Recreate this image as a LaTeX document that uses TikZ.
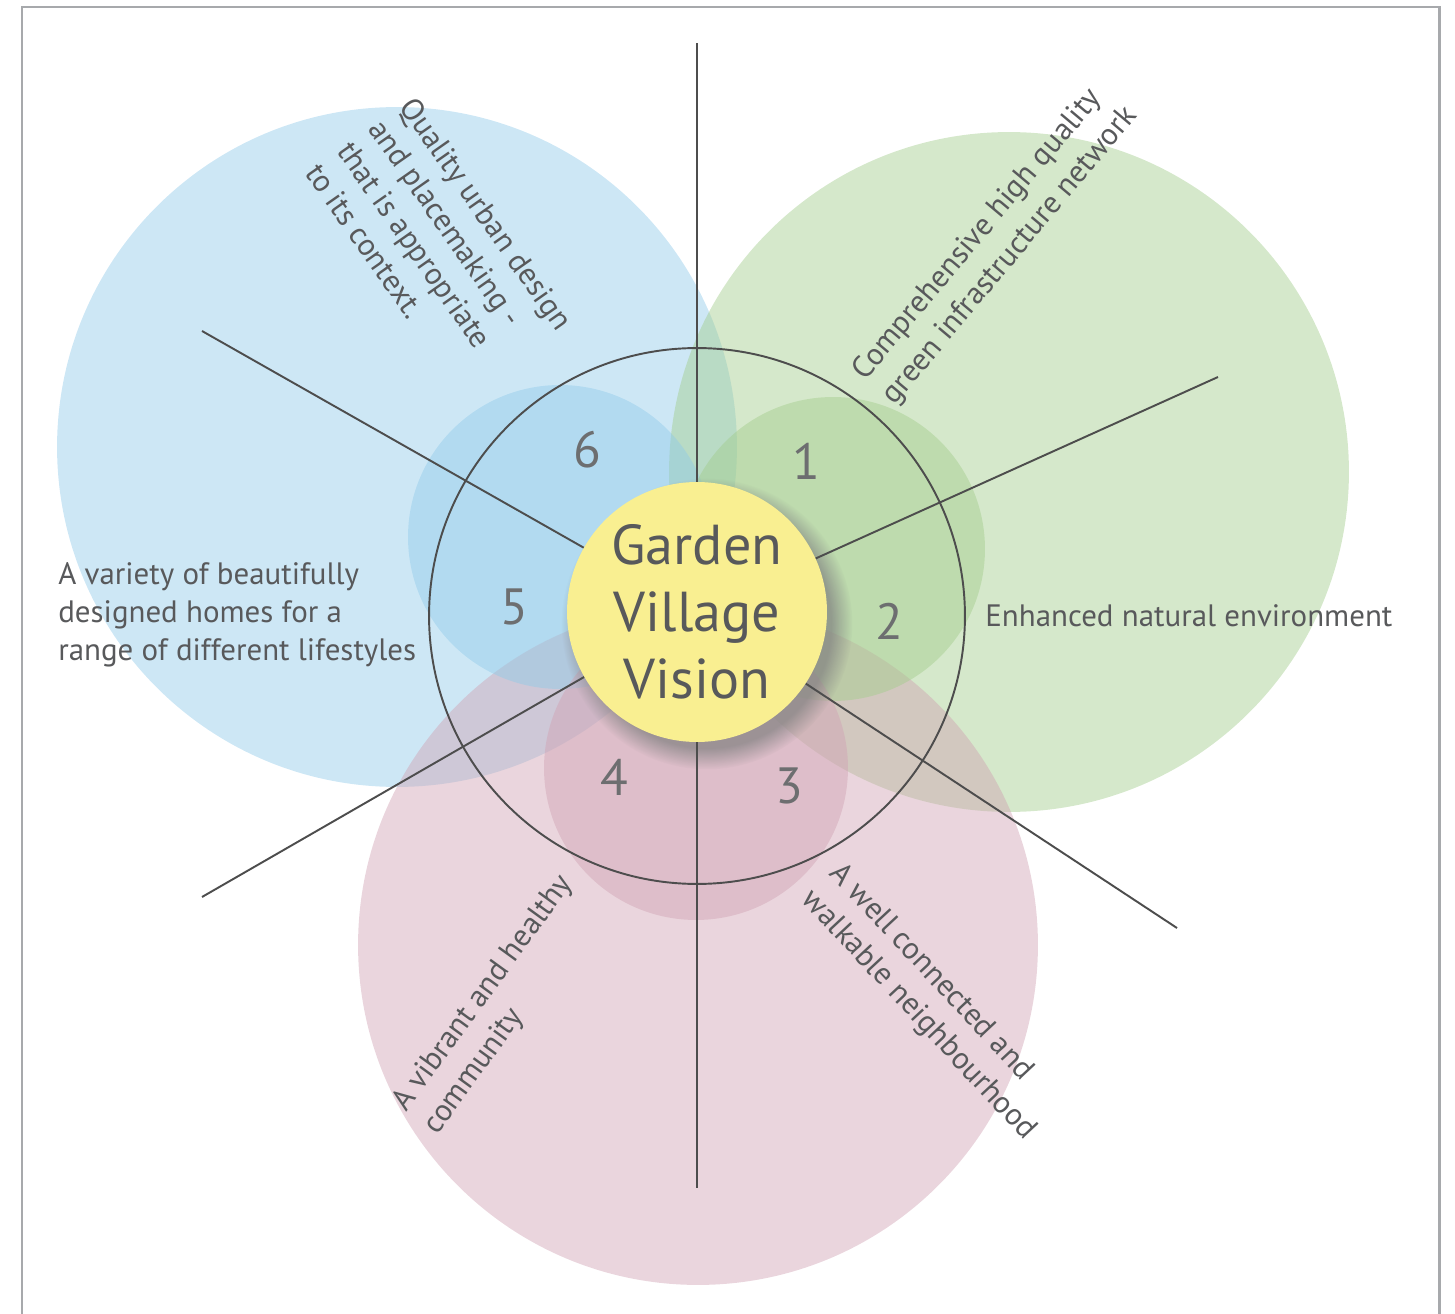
\documentclass[tikz,border=0pt]{standalone}
\usepackage{fontspec}
\setmainfont{PT Sans}
\usetikzlibrary{shadows}
\definecolor{txtgrey}{HTML}{58595B}
\definecolor{numgrey}{HTML}{6D6E70}
\definecolor{linegrey}{HTML}{4D4D4D}
\definecolor{framegrey}{HTML}{A7A9AC}
\definecolor{bluefill}{RGB}{144,202,233}
\definecolor{greenfill}{RGB}{162,204,139}
\definecolor{pinkfill}{RGB}{208,162,179}
\definecolor{visionyellow}{HTML}{F9EF91}
\begin{document}
\begin{tikzpicture}[x=0.02cm, y=-0.02cm,
  zone/.style={circle, inner sep=0pt, fill opacity=0.45},
  spoke/.style={draw=linegrey, line width=1.1pt},
  num/.style={text=numgrey, inner sep=0pt, font=\fontsize{29}{34}\selectfont},
  aim/.style={text=txtgrey, inner sep=0pt, align=left, font=\fontsize{17.6}{21.8}\selectfont}]
\useasboundingbox (0,0) rectangle (1455,1314);
\draw[framegrey, line width=1.7pt] (22,1314) -- (22,7) -- (1439,7) -- (1439,1314);
% the three big circles
\node[zone, fill=bluefill, minimum size=13.6cm] (bluebig) at (397,447){};
\node[zone, fill=greenfill, minimum size=13.6cm] (greenbig) at (1009,472){};
\node[zone, fill=pinkfill, minimum size=13.6cm] (pinkbig) at (698,945){};
% the three small circles
\node[zone, fill=bluefill, minimum size=6.08cm] (bluesmall) at (560,537){};
\node[zone, fill=greenfill, minimum size=6.08cm] (greensmall) at (833,549){};
\node[zone, fill=pinkfill, minimum size=6.08cm] (pinksmall) at (696,768){};
\node[circle, draw=linegrey, line width=1.1pt, inner sep=0pt, minimum size=10.72cm] (ring) at (697,616){};
\node[circle, fill=visionyellow, inner sep=0pt, minimum size=5.2cm, align=center, text=txtgrey,
  font=\fontsize{32}{38}\selectfont,
  circular drop shadow={shadow scale=1.12, shadow xshift=5pt, shadow yshift=-6pt, opacity=0.7}]
  (vision) at (697,612){Garden\\Village\\Vision};
\coordinate (endN) at (697,43);
\coordinate (endNE) at (1218,377);
\coordinate (endSE) at (1177,928);
\coordinate (endS) at (697,1188);
\coordinate (endSW) at (202,897);
\coordinate (endNW) at (202,331);
\draw[spoke](vision) -- (endN);
\draw[spoke](vision) -- (endNE);
\draw[spoke](vision) -- (endSE);
\draw[spoke](vision) -- (endS);
\draw[spoke](vision) -- (endSW);
\draw[spoke](vision) -- (endNW);
\node[num] (n1) at (806,461){1};
\node[num] (n2) at (889,621){2};
\node[num] (n3) at (789,786){3};
\node[num] (n4) at (614,777){4};
\node[num] (n5) at (514,607){5};
\node[num] (n6) at (587,450){6};
\node[aim, anchor=north west, rotate=-55] (design) at (417,94){Quality urban design\\and placemaking -\\that is appropriate\\to its context.};
\node[aim, anchor=north west, rotate=50] (network) at (848,367){Comprehensive high quality\\green infrastructure network};
\node[aim, anchor=base west] (nature) at (985,627){Enhanced natural environment};
\node[aim, anchor=north west, rotate=-47] (walk) at (845,859){A well connected and\\walkable neighbourhood};
\node[aim, anchor=north west, rotate=54] (community) at (388,1100){A vibrant and healthy\\community};
\node[aim, anchor=north west] (homes) at (58,562){A variety of beautifully\\designed homes for a\\range of different lifestyles};
\end{tikzpicture}
\end{document}
